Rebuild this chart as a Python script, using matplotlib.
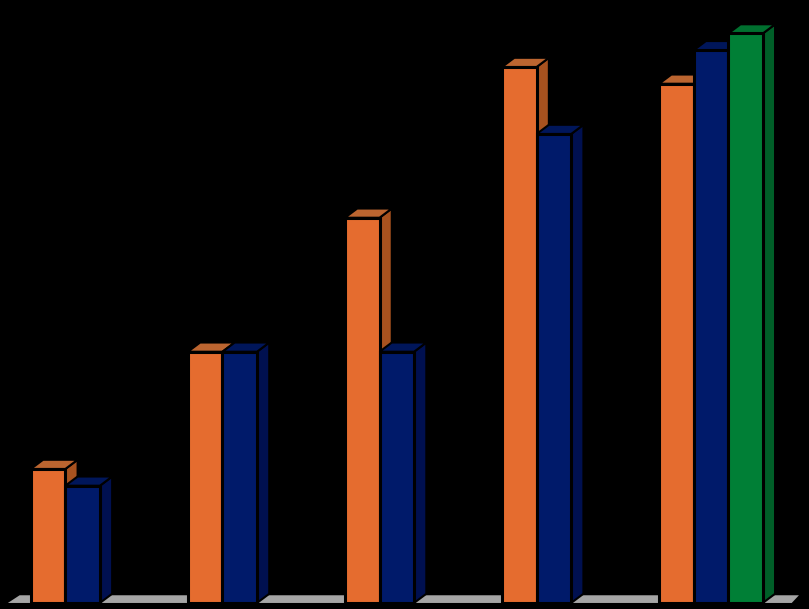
import matplotlib
matplotlib.use("Agg")
import matplotlib.pyplot as plt

# chart values, one list per series (group index = position in list)
orange_vals = [8, 15, 23, 32, 31]
blue_vals = [7, 15, 15, 28, 33]
green_vals = [None, None, None, None, 34]

# colors: front, top, side
ORANGE = ("#E56C2F", "#BC6530", "#A8521F")
BLUE = ("#001A6A", "#00165A", "#001050")
GREEN = ("#007F36", "#00702F", "#005F28")
FLOOR = "#A6A6A6"

BAR_W = 0.22
DEPTH_X = 0.078  # 3d offset of the bars, in x units
DEPTH_Y = 0.55   # same, in y units


def draw_bar(ax, x, val, colors):
    """front face plus the fake 3d top and side"""
    front, top, side = colors
    x2 = x + BAR_W
    ax.fill([x2, x2 + DEPTH_X, x2 + DEPTH_X, x2],
            [0, DEPTH_Y, val + DEPTH_Y, val],
            facecolor=side, edgecolor="black", linewidth=1.5)
    ax.fill([x, x + DEPTH_X, x2 + DEPTH_X, x2],
            [val, val + DEPTH_Y, val + DEPTH_Y, val],
            facecolor=top, edgecolor="black", linewidth=1.5)
    ax.bar(x, val, width=BAR_W, align="edge", color=front,
           edgecolor="black", linewidth=2.2, zorder=2)


fig = plt.figure(figsize=(8.09, 6.09), dpi=100, facecolor="black")
ax = fig.add_axes([0, 0, 1, 1], facecolor="black")
ax.set_xlim(-0.2, 4.95)
ax.set_ylim(-0.36, 36)
ax.axis("off")

# floor
ax.fill([-0.15, -0.075, 4.886, 4.84], [0, 0.46, 0.46, 0], facecolor=FLOOR, edgecolor="none")

for i in range(len(orange_vals)):
    for j, (vals, colors) in enumerate([(orange_vals, ORANGE), (blue_vals, BLUE), (green_vals, GREEN)]):
        if vals[i] is not None:
            draw_bar(ax, i - 0.004 + j * BAR_W, vals[i], colors)

fig.savefig("out.png", dpi=100, facecolor="black")
